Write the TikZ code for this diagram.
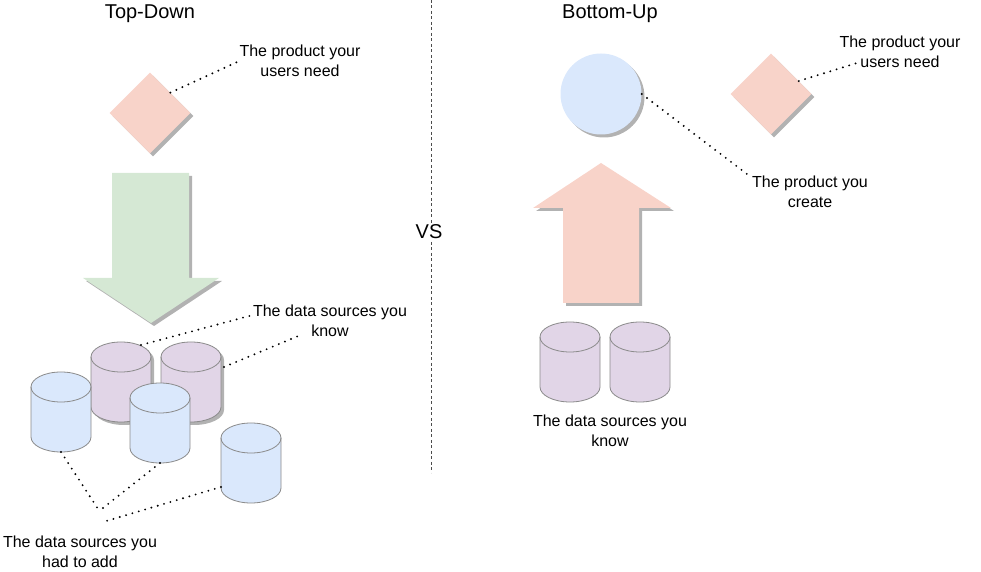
\documentclass[tikz,border=0pt]{standalone}
\usepackage{fontspec}
\setmainfont{Liberation Sans}
\usetikzlibrary{shapes,calc,shadows}
\definecolor{pinkfill}{HTML}{F8D3C9}
\definecolor{greenfill}{HTML}{D5E8D4}
\definecolor{bluefill}{HTML}{DAE8FC}
\definecolor{purplefill}{HTML}{E1D5E7}
\definecolor{cylline}{HTML}{8A8A8A}
\newcommand{\dbcyl}[4][]{
\path[cyl,fill=#4,#1] (#3) ++(0,-15) -- ++(0,-50) arc[start angle=180,end angle=360,x radius=30,y radius=15] -- ++(0,50) arc[start angle=0,end angle=180,x radius=30,y radius=15] -- cycle;
\draw[draw=cylline,line width=0.8pt] (#3) ++(0,-15) arc[start angle=180,end angle=360,x radius=30,y radius=15];
\coordinate (#2-top) at ($(#3)+(30,0)$);
\coordinate (#2-bot) at ($(#3)+(30,-80)$);
\coordinate (#2-west) at ($(#3)+(0,-40)$);
\coordinate (#2-east) at ($(#3)+(60,-40)$);
}

\begin{document}
\begin{tikzpicture}
[
x=1pt, y=1pt,
cyl/.style      = {draw=cylline, line width=0.8pt},
shade/.style    = {drop shadow={shadow xshift=3pt, shadow yshift=-3pt, fill=black!30, opacity=1}},
lbl/.style      = {align=center, inner sep=0pt, font=\fontsize{16}{20}\selectfont},
ttl/.style      = {inner sep=1pt, font=\fontsize{20}{24}\selectfont},
dots/.style     = {line width=2.1pt, line cap=round, dash pattern=on 0pt off 6.6pt},
product/.style  = {diamond, fill=pinkfill, minimum width=81pt, minimum height=81pt, inner sep=0pt, shade},
]
\useasboundingbox (0,0) rectangle (981,572);

% divider
\draw[black!70, line width=0.8pt, dash pattern=on 3pt off 2.5pt] (431,572) -- (431,99);
\node[ttl, fill=white] (vs) at (429,340) {VS};

% top-down
\node[ttl] (tdTitle) at (150,558) {Top-Down};
\node[product] (dL) at (150,459) {};
\node[lbl] (needL) at (300,511) {The product your\\users need};
\draw[dots] (dL.north east) -- (needL.west);

\fill[greenfill, shade] (112,399) -- (112,294) -- (83,294) -- (151,249) -- (219,294) -- (189,294) -- (189,399) -- cycle;

\dbcyl[shade]{A}{91,230}{purplefill}
\dbcyl[shade]{B}{161,230}{purplefill}
\dbcyl{C}{31,200}{bluefill}
\dbcyl{D}{130,189}{bluefill}
\dbcyl{E}{221,149}{bluefill}

\node[lbl] (knowL) at (330,251) {The data sources you\\know};
\draw[dots] ($(A-top)+(20,-3)$) -- ($(knowL.west)+(0,6)$);
\draw[dots] ($(B-east)+(3,15)$) -- ($(knowL.center)+(-27,-13)$);

\node[lbl] (addL) at (80,20) {The data sources you\\had to add};
\coordinate (addC) at (100,60);
\coordinate (addD) at (103,64);
\coordinate (addE) at (103,50);
\draw[dots] (C-bot) -- (addC);
\draw[dots] (D-bot) -- (addD);
\draw[dots] ($(E-west)+(0,-24)$) -- (addE);

% bottom-up
\node[ttl] (buTitle) at (610,558) {Bottom-Up};
\node[circle, fill=bluefill, minimum size=81pt, inner sep=0pt, shade] (made) at (601,478) {};
\node[product] (dR) at (771,478) {};
\node[lbl] (needR) at (900,520) {The product your\\users need};
\draw[dots] (dR.25) -- ($(needR.center)+(-43,-11)$);
\node[lbl] (create) at (810,380) {The product you\\create};
\draw[dots] (made.east) -- ($(create.north west)+(0,-2)$);

\fill[pinkfill, shade] (563,269) -- (563,364) -- (533,364) -- (601,409) -- (671,364) -- (639,364) -- (639,269) -- cycle;

\dbcyl{F}{540,250}{purplefill}
\dbcyl{G}{610,250}{purplefill}
\node[lbl] (knowR) at (610,141) {The data sources you\\know};
\end{tikzpicture}
\end{document}
